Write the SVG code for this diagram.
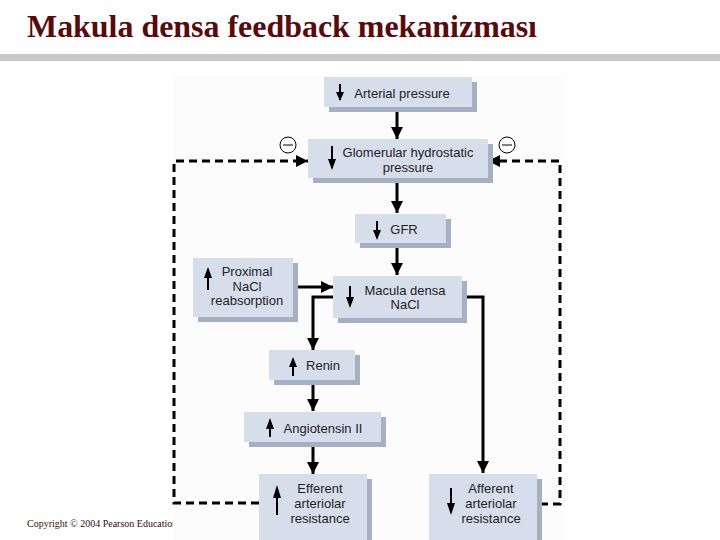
<svg xmlns="http://www.w3.org/2000/svg" width="720" height="540" viewBox="0 0 720 540">
<defs>
<style>
.box{fill:#d6deec}
.sh{fill:#a7b0c3}
.t{font-family:"Liberation Sans",Arial,sans-serif;font-size:13px;fill:#222;text-anchor:middle}
.c{stroke:#000;stroke-width:3;fill:none}
.d{stroke:#000;stroke-width:3;fill:none;stroke-dasharray:8 5}
.ic{stroke:#000;stroke-width:2;fill:none}
.minus{fill:#fff;stroke:#000;stroke-width:1}
</style>
<marker id="ah" viewBox="0 0 10 10" refX="10" refY="5" markerWidth="4" markerHeight="4" orient="auto" markerUnits="strokeWidth">
<path d="M0,0 L10,5 L0,10 Z" fill="#000"/>
</marker>
</defs>
<rect width="720" height="540" fill="#fff"/>
<text x="27" y="37" font-family="Liberation Serif,'Times New Roman',serif" font-weight="bold" font-size="31" fill="#5a0a0a" textLength="510" lengthAdjust="spacingAndGlyphs">Makula densa feedback mekanizması</text>
<rect x="0" y="54" width="720" height="7" fill="#c8c8c8"/>
<text x="27" y="527" font-family="Liberation Serif,'Times New Roman',serif" font-size="10" fill="#3a0a0a">Copyright © 2004 Pearson Education</text>
<rect x="173" y="76" width="392" height="464" fill="#fcfcfc"/>

<g id="connectors">
<line class="c" x1="397" y1="112" x2="397" y2="139" marker-end="url(#ah)"/>
<line class="c" x1="397" y1="183" x2="397" y2="213" marker-end="url(#ah)"/>
<line class="c" x1="397" y1="248" x2="397" y2="275" marker-end="url(#ah)"/>
<line class="c" x1="293" y1="287" x2="333" y2="287" marker-end="url(#ah)"/>
<polyline class="c" points="333,297 313,297 313,350" marker-end="url(#ah)"/>
<polyline class="c" points="467,297 483,297 483,473" marker-end="url(#ah)"/>
<line class="c" x1="313" y1="385" x2="313" y2="411" marker-end="url(#ah)"/>
<line class="c" x1="313" y1="447" x2="313" y2="474" marker-end="url(#ah)"/>
<polyline class="d" points="259,503 174,503 174,161 308,161" marker-end="url(#ah)"/>
<polyline class="d" points="540,504 560,504 560,161 488,161" marker-end="url(#ah)"/>
<circle class="minus" cx="288" cy="145" r="8"/>
<line x1="283" y1="145" x2="293" y2="145" stroke="#000" stroke-width="1"/>
<circle class="minus" cx="507" cy="145" r="8"/>
<line x1="502" y1="145" x2="512" y2="145" stroke="#000" stroke-width="1"/>
</g>

<g id="arterial">
<rect class="sh" x="329" y="82" width="148" height="30"/>
<rect class="box" x="324" y="77" width="148" height="30"/>
<line class="ic" x1="340" y1="84" x2="340" y2="100"/><path d="M336,92 L344,92 L340,101 Z"/>
<text class="t" x="402" y="98">Arterial pressure</text>
</g>

<g id="glomerular">
<rect class="sh" x="313" y="144" width="180" height="39"/>
<rect class="box" x="308" y="139" width="180" height="39"/>
<line class="ic" x1="332" y1="146" x2="332" y2="168"/><path d="M328,159 L336,159 L332,170 Z"/>
<text class="t" x="408" y="157">Glomerular hydrostatic</text>
<text class="t" x="408" y="172">pressure</text>
</g>

<g id="gfr">
<rect class="sh" x="360" y="219" width="91" height="29"/>
<rect class="box" x="355" y="214" width="91" height="29"/>
<line class="ic" x1="377" y1="221" x2="377" y2="238"/><path d="M373,230 L381,230 L377,240 Z"/>
<text class="t" x="404" y="234">GFR</text>
</g>

<g id="proximal">
<rect class="sh" x="198" y="263" width="100" height="59"/>
<rect class="box" x="193" y="258" width="100" height="59"/>
<line class="ic" x1="208" y1="269" x2="208" y2="290"/><path d="M204,278 L212,278 L208,267 Z"/>
<text class="t" x="247" y="276">Proximal</text>
<text class="t" x="247" y="291">NaCl</text>
<text class="t" x="247" y="305">reabsorption</text>
</g>

<g id="macula">
<rect class="sh" x="338" y="281" width="129" height="42"/>
<rect class="box" x="333" y="276" width="129" height="42"/>
<line class="ic" x1="350" y1="286" x2="350" y2="306"/><path d="M346,297 L354,297 L350,308 Z"/>
<text class="t" x="405" y="295">Macula densa</text>
<text class="t" x="405" y="309">NaCl</text>
</g>

<g id="renin">
<rect class="sh" x="274" y="355" width="86" height="30"/>
<rect class="box" x="269" y="350" width="86" height="30"/>
<line class="ic" x1="293" y1="359" x2="293" y2="376"/><path d="M289,367 L297,367 L293,357 Z"/>
<text class="t" x="323" y="370">Renin</text>
</g>

<g id="angiotensin">
<rect class="sh" x="249" y="417" width="137" height="30"/>
<rect class="box" x="244" y="412" width="137" height="30"/>
<line class="ic" x1="270" y1="421" x2="270" y2="437"/><path d="M266,429 L274,429 L270,418 Z"/>
<text class="t" x="323" y="433">Angiotensin II</text>
</g>

<g id="efferent">
<rect class="sh" x="264" y="479" width="108" height="66"/>
<rect class="box" x="259" y="474" width="108" height="66"/>
<line class="ic" x1="277" y1="490" x2="277" y2="515"/><path d="M273,498 L281,498 L277,485 Z"/>
<text class="t" x="320" y="493">Efferent</text>
<text class="t" x="320" y="508">arteriolar</text>
<text class="t" x="320" y="523">resistance</text>
</g>

<g id="afferent">
<rect class="sh" x="434" y="479" width="108" height="66"/>
<rect class="box" x="429" y="474" width="108" height="66"/>
<line class="ic" x1="451" y1="488" x2="451" y2="512"/><path d="M447,503 L455,503 L451,515 Z"/>
<text class="t" x="491" y="493">Afferent</text>
<text class="t" x="491" y="508">arteriolar</text>
<text class="t" x="491" y="523">resistance</text>
</g>
</svg>
